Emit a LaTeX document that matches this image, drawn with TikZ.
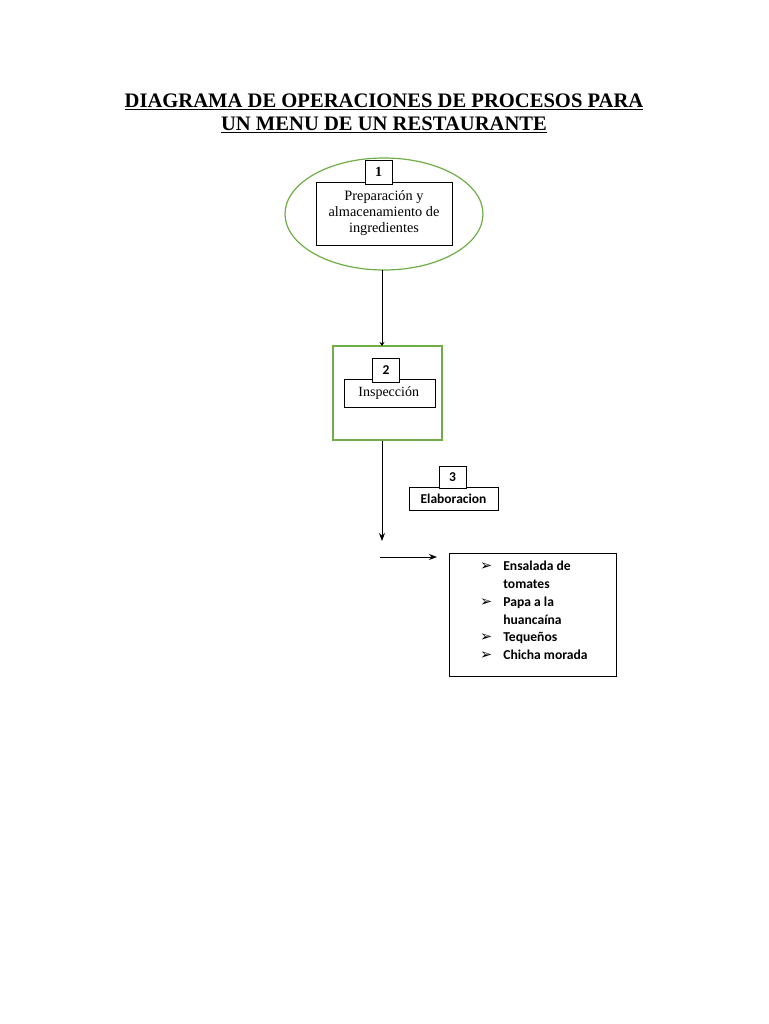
\documentclass[tikz,border=0pt]{standalone}
\usepackage{fontspec}
\setmainfont{Liberation Serif}
\newfontfamily\calibri{Carlito}
\newfontfamily\symfont{DejaVu Sans}
\usepackage{xcolor}
\usetikzlibrary{arrows.meta,shapes.geometric,positioning}
\definecolor{ofgreen}{RGB}{112,173,71}
\newcommand{\itembullet}{{\symfont\fontsize{14.5}{12}\selectfont ➢}}

\begin{document}
\begin{tikzpicture}[x=1pt, y=-1pt,
  numbox/.style={rectangle, draw, fill=white, line width=0.8pt, minimum width=27pt, minimum height=24pt, inner sep=0pt},
  txtbox/.style={rectangle, draw, fill=white, line width=0.8pt, inner sep=0pt, align=center},
  conn/.style={line width=0.8pt}]
\useasboundingbox (0,0) rectangle (768,1024);
% title
\node[font=\fontsize{20.6}{23}\selectfont\bfseries, align=center] (title) at (384,113.5)
  {\underline{DIAGRAMA DE OPERACIONES DE PROCESOS PARA}\\ \underline{UN MENU DE UN RESTAURANTE}};
% operacion 1
\node[ellipse, draw=ofgreen, line width=1.2pt, minimum width=198pt, minimum height=112pt] (ell) at (384,214) {};
\node[txtbox, minimum width=136pt, minimum height=63pt, font=\fontsize{14.3}{16}\selectfont] (prep) at (384,213.5)
  {Preparación y\\ almacenamiento de\\ ingredientes};
\node[numbox, font=\fontsize{14}{15}\selectfont\bfseries] (n1) at (378.5,172) {1};
% inspeccion 2
\node[rectangle, draw=ofgreen, line width=1.2pt, minimum width=109pt, minimum height=94pt] (insfr) at (387.5,393) {};
\node[txtbox, minimum width=91pt, minimum height=28pt, font=\fontsize{14}{15}\selectfont, anchor=north west, text width=81pt, align=left] (insp) at (344,379) {\hspace*{9pt}Inspección};
\node[numbox, font=\calibri\bfseries\fontsize{13.5}{15}\selectfont] (n2) at (386,370) {2};
% elaboracion 3
\node[txtbox, minimum width=89pt, minimum height=23pt, font=\calibri\bfseries\fontsize{13.5}{15}\selectfont] (elab) at (453.5,498.5) {Elaboracion};
\node[numbox, minimum height=22pt, font=\calibri\bfseries\fontsize{13.5}{15}\selectfont] (n3) at (452.5,477) {3};
% menu
\node[txtbox, minimum width=167pt, minimum height=123pt, anchor=north west] (menu) at (449,553) {};
\node[anchor=north west, inner sep=0pt, align=left, font=\calibri\bfseries\fontsize{13.6}{17.8}\selectfont] (items) at (480,558)
  {\begin{tabular}{@{}l@{\hspace{11pt}}l@{}}
   \itembullet & Ensalada de\\
   & tomates\\
   \itembullet & Papa a la\\
   & huancaína\\
   \itembullet & Tequeños\\
   \itembullet & Chicha morada
   \end{tabular}};
% conectores
\coordinate (c1) at (382,541);
\coordinate (c2) at (380,557);
\draw[conn, -{Stealth[length=4pt,width=5pt]}] (382,270) -- (382,346);
\draw[conn, -{Stealth[length=8pt,width=6pt]}] (insfr.south -| c1) -- (c1);
\draw[conn, -{Stealth[length=8pt,width=6pt]}] (c2) -- ([xshift=-12pt]menu.west |- c2);
\end{tikzpicture}
\end{document}
